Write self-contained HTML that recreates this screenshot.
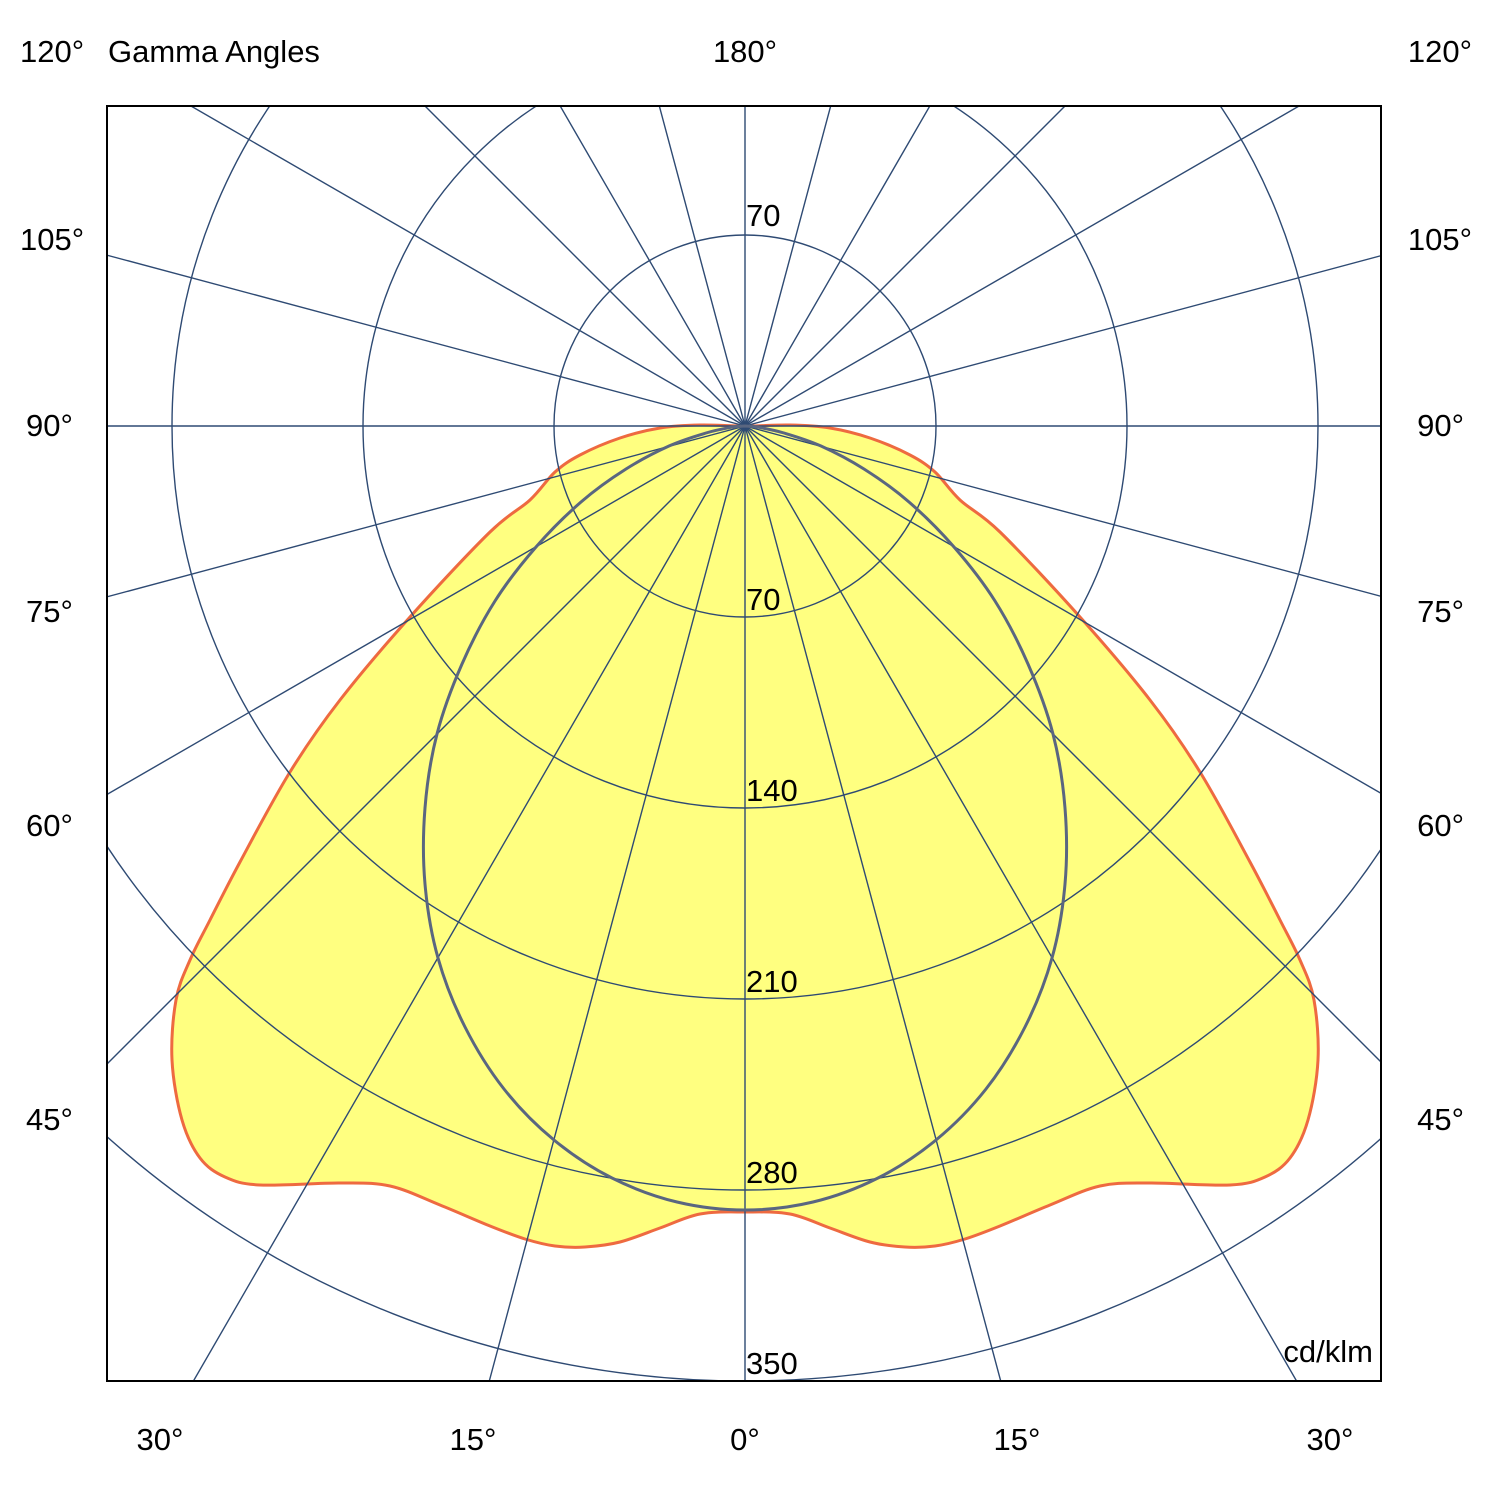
<!DOCTYPE html>
<html><head><meta charset="utf-8"><style>
html,body{margin:0;padding:0;background:#fff;width:1490px;height:1490px;overflow:hidden;}
svg{display:block;}
text{font-family:"Liberation Sans",sans-serif;font-size:31px;fill:#000;}
</style></head><body>
<svg width="1490" height="1490" viewBox="0 0 1490 1490" xmlns="http://www.w3.org/2000/svg">
<defs><clipPath id="c"><rect x="107" y="106" width="1274" height="1275"/></clipPath></defs>
<rect width="1490" height="1490" fill="#fff"/>
<g clip-path="url(#c)">
<path id="red" fill="#ffff80" stroke="#ee6a40" stroke-width="3" stroke-linejoin="round" d="M745,1212 L790,1214 L830,1228 L870,1242 L905,1247 L935,1246 L965,1239 L1000,1226 L1050,1205 L1100,1186 L1150,1183 L1230,1185 L1265,1177 L1290,1158 L1308,1120 L1318,1060 L1314,1000 L1300,960 L1280,920 L1250,862 L1200,772 L1150,700 L1080,617 L1000,532 L960,500 L935,472 L910,455 L870,438 L830,428 L790,425 L745,426 L700,425 L660,428 L620,438 L580,455 L555,472 L530,500 L490,532 L410,617 L340,700 L290,772 L240,862 L210,920 L190,960 L176,1000 L172,1060 L182,1120 L200,1158 L225,1177 L260,1185 L340,1183 L390,1186 L440,1205 L490,1226 L525,1239 L555,1246 L585,1247 L620,1242 L660,1228 L700,1214 Z"/>
<g fill="none" stroke="#2e4a73" stroke-width="1.4">
<circle cx="745" cy="426" r="191"/>
<circle cx="745" cy="426" r="382"/>
<circle cx="745" cy="426" r="573"/>
<circle cx="745" cy="426" r="764"/>
<circle cx="745" cy="426" r="955"/>
<line x1="745" y1="0" x2="745" y2="1490"/>
<line x1="0" y1="426" x2="1490" y2="426"/>
<line x1="1107" y1="1778" x2="383" y2="-926"/>
<line x1="1445" y1="1638" x2="45" y2="-786"/>
<line x1="1735" y1="1416" x2="-245" y2="-564"/>
<line x1="1957" y1="1126" x2="-467" y2="-274"/>
<line x1="2097" y1="788" x2="-607" y2="64"/>
<line x1="2097" y1="64" x2="-607" y2="788"/>
<line x1="1957" y1="-274" x2="-467" y2="1126"/>
<line x1="1735" y1="-564" x2="-245" y2="1416"/>
<line x1="1445" y1="-786" x2="45" y2="1638"/>
<line x1="1107" y1="-926" x2="383" y2="1778"/>
</g>
<path id="grey" fill="none" stroke="#5a6680" stroke-width="3" stroke-linejoin="round" d="M745,426 L757,427 L784,433 L821,446 L864,469 L909,502 L954,547 L995,601 L1028,664 L1053,734 L1065,808 L1065,884 L1052,958 L1025,1027 L986,1089 L936,1140 L878,1178 L813,1202 L745,1210 L677,1202 L612,1178 L554,1140 L504,1089 L465,1027 L438,958 L425,884 L425,808 L437,734 L462,664 L495,601 L536,547 L581,502 L626,469 L669,446 L706,433 L733,427 Z"/>
</g>
<rect x="107" y="106" width="1274" height="1275" fill="none" stroke="#000" stroke-width="2"/>
<text x="20" y="62">120°</text>
<text x="108" y="62">Gamma Angles</text>
<text x="745" y="62" text-anchor="middle">180°</text>
<text x="1472" y="62" text-anchor="end">120°</text>
<text x="20" y="250">105°</text><text x="1472" y="250" text-anchor="end">105°</text>
<text x="26" y="436">90°</text><text x="1464" y="436" text-anchor="end">90°</text>
<text x="26" y="622">75°</text><text x="1464" y="622" text-anchor="end">75°</text>
<text x="26" y="836">60°</text><text x="1464" y="836" text-anchor="end">60°</text>
<text x="26" y="1130">45°</text><text x="1464" y="1130" text-anchor="end">45°</text>
<text x="160" y="1450" text-anchor="middle">30°</text>
<text x="473" y="1450" text-anchor="middle">15°</text>
<text x="745" y="1450" text-anchor="middle">0°</text>
<text x="1017" y="1450" text-anchor="middle">15°</text>
<text x="1330" y="1450" text-anchor="middle">30°</text>
<text x="746" y="226">70</text>
<text x="746" y="610">70</text>
<text x="746" y="801">140</text>
<text x="746" y="992">210</text>
<text x="746" y="1183">280</text>
<text x="746" y="1374">350</text>
<text x="1373" y="1362" text-anchor="end">cd/klm</text>
</svg>
<script>
function smooth(id,keepCorner){
  var el=document.getElementById(id);
  var d=el.getAttribute('d');
  var nums=d.match(/-?\d+(\.\d+)?/g).map(Number);
  var p=[];for(var i=0;i<nums.length;i+=2)p.push([nums[i],nums[i+1]]);
  var n=p.length,s='M'+p[0][0]+','+p[0][1];
  for(var i=0;i<n;i++){
    var p0=p[(i-1+n)%n],p1=p[i],p2=p[(i+1)%n],p3=p[(i+2)%n];
    var t=0.5;
    if(keepCorner&&keepCorner.indexOf(i)>=0)p0=p1;
    if(keepCorner&&keepCorner.indexOf((i+1)%n)>=0)p3=p2;
    var c1=[p1[0]+(p2[0]-p0[0])/6,p1[1]+(p2[1]-p0[1])/6];
    var c2=[p2[0]-(p3[0]-p1[0])/6,p2[1]-(p3[1]-p1[1])/6];
    s+=' C'+c1[0].toFixed(1)+','+c1[1].toFixed(1)+' '+c2[0].toFixed(1)+','+c2[1].toFixed(1)+' '+p2[0]+','+p2[1];
  }
  el.setAttribute('d',s+' Z');
}
smooth('grey',[0]);
smooth('red',[]);
</script>
</body></html>
